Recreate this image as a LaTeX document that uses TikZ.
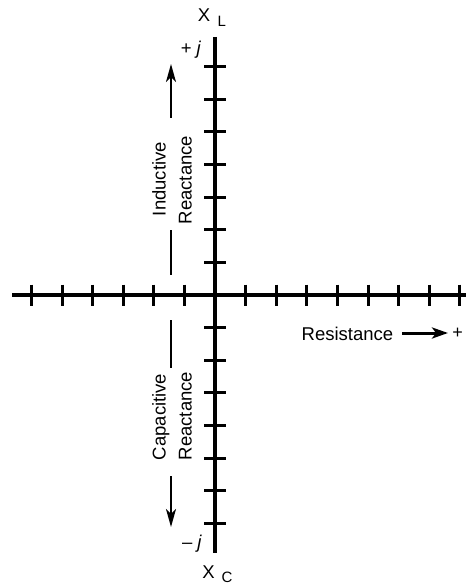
\documentclass[tikz,border=0pt]{standalone}
\usepackage{fontspec}
\setmainfont{Liberation Sans}
\usetikzlibrary{arrows.meta}
\begin{document}
\begin{tikzpicture}[x=1pt,y=-1pt,
  axis/.style={line width=3.2pt},
  tick/.style={line width=3pt},
  lbl/.style={font=\fontsize{18.5}{20}\selectfont, inner sep=0pt},
  sub/.style={font=\fontsize{15}{17}\selectfont, inner sep=0pt},
  thin/.style={line width=1.6pt},
  uparrow/.style={line width=1.6pt, -{Stealth[length=18pt,width=10pt,inset=5pt]}},
  resarrow/.style={line width=3pt, -{Stealth[length=16pt,width=11pt,inset=4pt]}}]
\useasboundingbox (0,0) rectangle (465,585);
% axes
\coordinate (L) at (12,295);
\coordinate (R) at (466,295);
\coordinate (T) at (215,37);
\coordinate (B) at (215,553);
\draw[axis] (L) -- (R);
\draw[axis] (T) -- (B);
\foreach \k in {-6,...,-1,1,2,...,8}
  \draw[tick] (215+30.6*\k,284.5) -- (215+30.6*\k,306);
\foreach \k in {-7,...,-1,1,2,...,7}
  \draw[tick] (204,295+32.6*\k) -- (226,295+32.6*\k);
% axis labels
\node[lbl, anchor=base] (xl) at (204,22) {X};
\node[sub, anchor=base west] (xlsub) at (217.5,27) {L};
\node[lbl, anchor=base] (xc) at (208.5,578) {X};
\node[sub, anchor=base west] (xcsub) at (221.5,582) {C};
\node[lbl, anchor=base] (pj) at (191,55) {+ \textit{j}};
\node[lbl, anchor=base] (mj) at (192,548) {\textendash\ \textit{j}};
% inductive
\node[lbl, anchor=base, rotate=90] (ind) at (165.5,179) {Inductive};
\node[lbl, anchor=base, rotate=90] (rea1) at (191.5,180) {Reactance};
\coordinate (u1) at (171,230);
\coordinate (u2) at (171,275);
\draw[thin] (u1) -- (u2);
\coordinate (ua) at (171,118);
\coordinate (ub) at (171,64);
\draw[uparrow] (ua) -- (ub);
% capacitive
\node[lbl, anchor=base, rotate=90] (cap) at (165.5,417) {Capacitive};
\node[lbl, anchor=base, rotate=90] (rea2) at (191.5,416) {Reactance};
\coordinate (c1) at (171,320);
\coordinate (c2) at (171,368);
\draw[thin] (c1) -- (c2);
\coordinate (ca) at (171,476);
\coordinate (cb) at (171,527);
\draw[uparrow] (ca) -- (cb);
% resistance
\node[lbl, anchor=base] (res) at (347.5,340) {Resistance};
\node[font=\fontsize{18}{20}\selectfont, inner sep=0pt] (plus) at (457.5,333) {+};
\coordinate (ra) at (402,333);
\coordinate (rb) at (448,333);
\draw[resarrow] (ra) -- (rb);
\end{tikzpicture}
\end{document}
